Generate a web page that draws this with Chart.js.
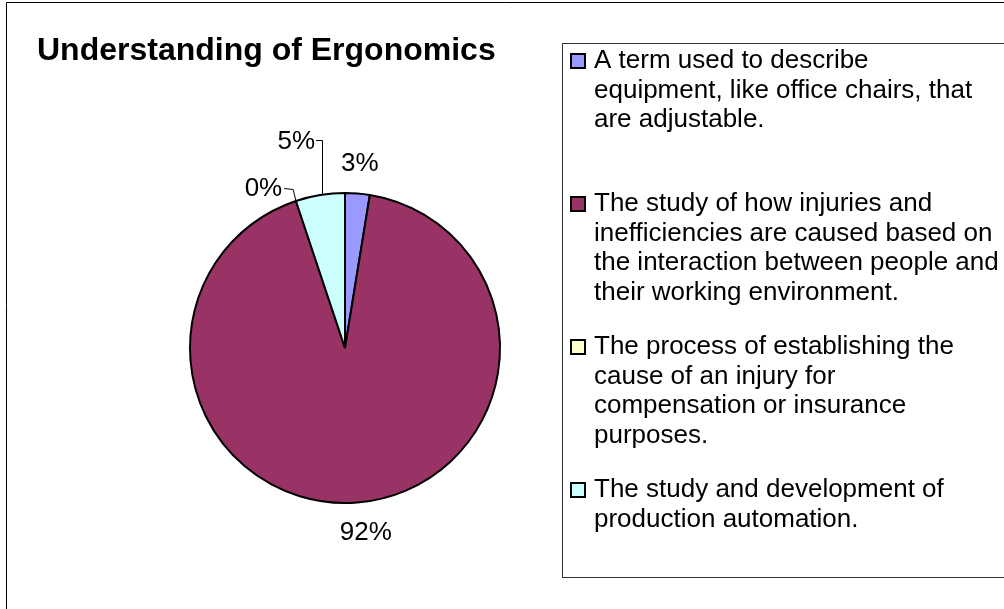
<!DOCTYPE html>
<html>
<head>
<meta charset="utf-8">
<script src="https://cdn.jsdelivr.net/npm/chart.js@4.4.0/dist/chart.umd.min.js"></script>
<style>
  html, body { margin: 0; padding: 0; background: #fff; }
  canvas { display: block; }
</style>
</head>
<body>
<canvas id="ergoChart" width="1004" height="609"></canvas>
<script>
// survey answers (3% / 92% / 0% / 5%)
const chartTitle = 'Understanding of Ergonomics';
const categories = [
    ['A term used to describe', 'equipment, like office chairs, that', 'are adjustable.'],
    ['The study of how injuries and', 'inefficiencies are caused based on', 'the interaction between people and', 'their working environment.'],
    ['The process of establishing the', 'cause of an injury for', 'compensation or insurance', 'purposes.'],
    ['The study and development of', 'production automation.']
];
const responses = [1, 36, 0, 2];
const sliceColors = ['#9999FF', '#993366', '#FFFFCC', '#CCFFFF'];

const fontFamily = "'Liberation Sans', Arial, sans-serif";

// percentage labels outside the slices, with leader lines for the small ones
const pctLabels = {
    id: 'pctLabels',
    afterDatasetsDraw(chart, args, opts) {
        const ctx = chart.ctx;
        const meta = chart.getDatasetMeta(0);
        const values = chart.data.datasets[0].data;
        const total = values.reduce((acc, curr) => acc + curr, 0);

        ctx.save();
        ctx.font = opts.size + 'px ' + fontFamily;
        ctx.fillStyle = '#000';
        ctx.strokeStyle = '#000';
        ctx.lineWidth = 1;
        ctx.textAlign = 'center';
        ctx.textBaseline = 'middle';

        meta.data.forEach((arc, i) => {
            const p = arc.getProps(['x', 'y', 'startAngle', 'endAngle', 'outerRadius'], true);
            const mid = (p.startAngle + p.endAngle) / 2;
            const r = p.outerRadius + opts.gap;
            const nudge = opts.nudges[i] || { dx: 0, dy: 0 };
            const lx = p.x + Math.cos(mid) * r + nudge.dx;
            const ly = p.y + Math.sin(mid) * r + nudge.dy;
            const text = Math.round(values[i] / total * 100) + '%';
            ctx.fillText(text, lx, ly);

            if (!nudge.leader) return;
            const right = lx + ctx.measureText(text).width / 2;
            ctx.beginPath();
            if (nudge.leader === 'elbow') {
                // across, then straight down onto the rim
                const vx = right + 7;
                const vy = p.y - Math.sqrt(p.outerRadius * p.outerRadius - (vx - p.x) * (vx - p.x));
                ctx.moveTo(right + 1, Math.round(ly - 1) + 0.5);
                ctx.lineTo(Math.round(vx) + 0.5, Math.round(ly - 1) + 0.5);
                ctx.lineTo(Math.round(vx) + 0.5, vy);
            } else {
                // short tick, then to the slice edge
                ctx.moveTo(right + 2, ly);
                ctx.lineTo(right + 11, ly + 1);
                ctx.lineTo(p.x + Math.cos(mid) * p.outerRadius, p.y + Math.sin(mid) * p.outerRadius);
            }
            ctx.stroke();
        });
        ctx.restore();
    }
};

// boxed legend on the right, like the spreadsheet one
const boxLegend = {
    id: 'boxLegend',
    afterDraw(chart, args, opts) {
        const ctx = chart.ctx;
        const colors = chart.data.datasets[0].backgroundColor;

        ctx.save();
        // frame of the whole chart area
        ctx.strokeStyle = '#000';
        ctx.lineWidth = 1;
        ctx.beginPath();
        ctx.moveTo(opts.frameX, chart.height);
        ctx.lineTo(opts.frameX, opts.frameY);
        ctx.lineTo(chart.width, opts.frameY);
        ctx.stroke();

        ctx.strokeStyle = '#333';
        ctx.strokeRect(opts.left + 0.5, opts.top + 0.5, opts.right - opts.left, opts.bottom - opts.top);

        ctx.font = opts.size + 'px ' + fontFamily;
        ctx.textAlign = 'left';
        ctx.textBaseline = 'middle';
        categories.forEach((lines, i) => {
            const y0 = opts.top + opts.firstOffset + i * opts.slot;
            const mx = opts.left + 9;
            ctx.fillStyle = colors[i];
            ctx.fillRect(mx, y0 - 7, 14, 14);
            ctx.strokeStyle = '#000';
            ctx.lineWidth = 2;
            ctx.strokeRect(mx, y0 - 7, 14, 14);
            ctx.fillStyle = '#000';
            lines.forEach((line, j) => {
                ctx.fillText(line, opts.left + 32, y0 + j * opts.lineHeight);
            });
        });
        ctx.restore();
    }
};

const ctx = document.getElementById('ergoChart').getContext('2d');
window.myChart = new Chart(ctx, {
    type: 'pie',
    data: {
        labels: categories.map(lines => lines.join(' ')),
        datasets: [{
            data: responses,
            backgroundColor: sliceColors,
            borderColor: '#000',
            borderWidth: 2
        }]
    },
    options: {
        responsive: false,
        animation: false,
        events: [],
        devicePixelRatio: 1,
        layout: {
            padding: { left: 37, right: 351, top: 32, bottom: 105 }
        },
        plugins: {
            legend: { display: false },
            tooltip: { enabled: false },
            title: {
                display: true,
                text: chartTitle,
                align: 'start',
                color: '#000',
                font: { family: fontFamily, size: 32, weight: 'bold' },
                padding: { top: 0, bottom: 121.6 }
            },
            pctLabels: {
                size: 26,
                gap: 30,
                nudges: [
                    null,
                    { dx: 6, dy: 0 },
                    { dx: -23, dy: 16, leader: 'kink' },
                    { dx: -19, dy: -24, leader: 'elbow' }
                ]
            },
            boxLegend: {
                frameX: 6.5,
                frameY: 2.5,
                left: 562,
                top: 43,
                right: 1010,
                bottom: 577,
                size: 26,
                firstOffset: 18,
                slot: 143,
                lineHeight: 29.5
            }
        }
    },
    plugins: [pctLabels, boxLegend]
});
</script>
</body>
</html>
